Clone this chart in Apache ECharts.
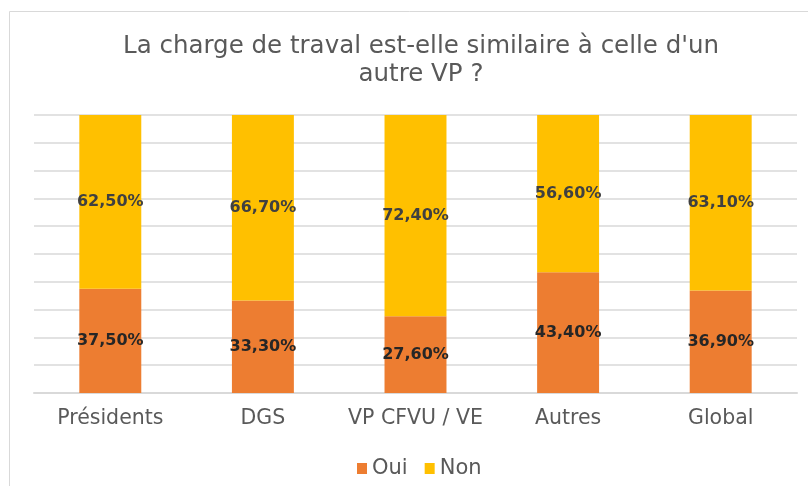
<!DOCTYPE html>
<html>
<head>
<meta charset="utf-8">
<script src="https://cdn.jsdelivr.net/npm/echarts@6/dist/echarts.min.js"></script>
<style>
  html, body { margin: 0; padding: 0; background: #fff; }
  #chart { width: 808px; height: 486px; }
</style>
</head>
<body>
<div id="chart"></div>
<script>
// catégories et valeurs (en %)
const categories = ['Présidents', 'DGS', 'VP CFVU / VE', 'Autres', 'Global']
const oui = [37.5, 33.3, 27.6, 43.4, 36.9]
const non = [62.5, 66.7, 72.4, 56.6, 63.1]

const font = 'DejaVu Sans'

// format français : 37,50%
function fmt (p) {
  return p.value.toFixed(2).replace('.', ',') + '%'
}

const chart = echarts.init(document.getElementById('chart'))
chart.setOption({
  animation: false,
  textStyle: { fontFamily: font },
  title: {
    text: "La charge de traval est-elle similaire à celle d'un\nautre VP ?",
    left: 416,
    top: 28,
    textAlign: 'center',
    textStyle: {
      color: '#595959',
      fontSize: 24.5,
      fontWeight: 'normal',
      lineHeight: 28,
      fontFamily: font
    }
  },
  // cadre gris du graphique
  graphic: [{
    type: 'rect',
    shape: { x: 9.5, y: 11.5, width: 900, height: 600 },
    style: { fill: 'none', stroke: '#d9d9d9', lineWidth: 1 },
    z: -1
  }],
  legend: {
    data: ['Oui', 'Non'],
    left: 352,
    top: 453,
    itemWidth: 10,
    itemHeight: 11,
    itemGap: 17,
    icon: 'rect',
    textStyle: { color: '#595959', fontSize: 21 }
  },
  grid: { left: 34, right: 11, top: 115, bottom: 93 },
  xAxis: {
    type: 'category',
    data: categories,
    axisLine: { lineStyle: { color: '#d9d9d9', width: 2 } },
    axisTick: { show: false },
    axisLabel: { color: '#595959', fontSize: 20.5, margin: 15, interval: 0 }
  },
  yAxis: {
    type: 'value',
    min: 0,
    max: 100,
    interval: 10,
    axisLabel: { show: false },
    axisLine: { show: false },
    axisTick: { show: false },
    splitLine: { lineStyle: { color: '#d9d9d9', width: 1.5 } }
  },
  series: [
    {
      name: 'Oui',
      type: 'bar',
      stack: 'total',
      data: oui,
      barWidth: '40.6%',
      itemStyle: { color: '#ed7d31' },
      label: {
        show: true,
        position: 'inside',
        formatter: fmt,
        color: '#262626',
        fontSize: 16,
        fontWeight: 'bold'
      }
    },
    {
      name: 'Non',
      type: 'bar',
      stack: 'total',
      data: non,
      itemStyle: { color: '#ffc000' },
      label: {
        show: true,
        position: 'inside',
        formatter: fmt,
        color: '#404040',
        fontSize: 16,
        fontWeight: 'bold'
      }
    }
  ]
})
</script>
</body>
</html>
